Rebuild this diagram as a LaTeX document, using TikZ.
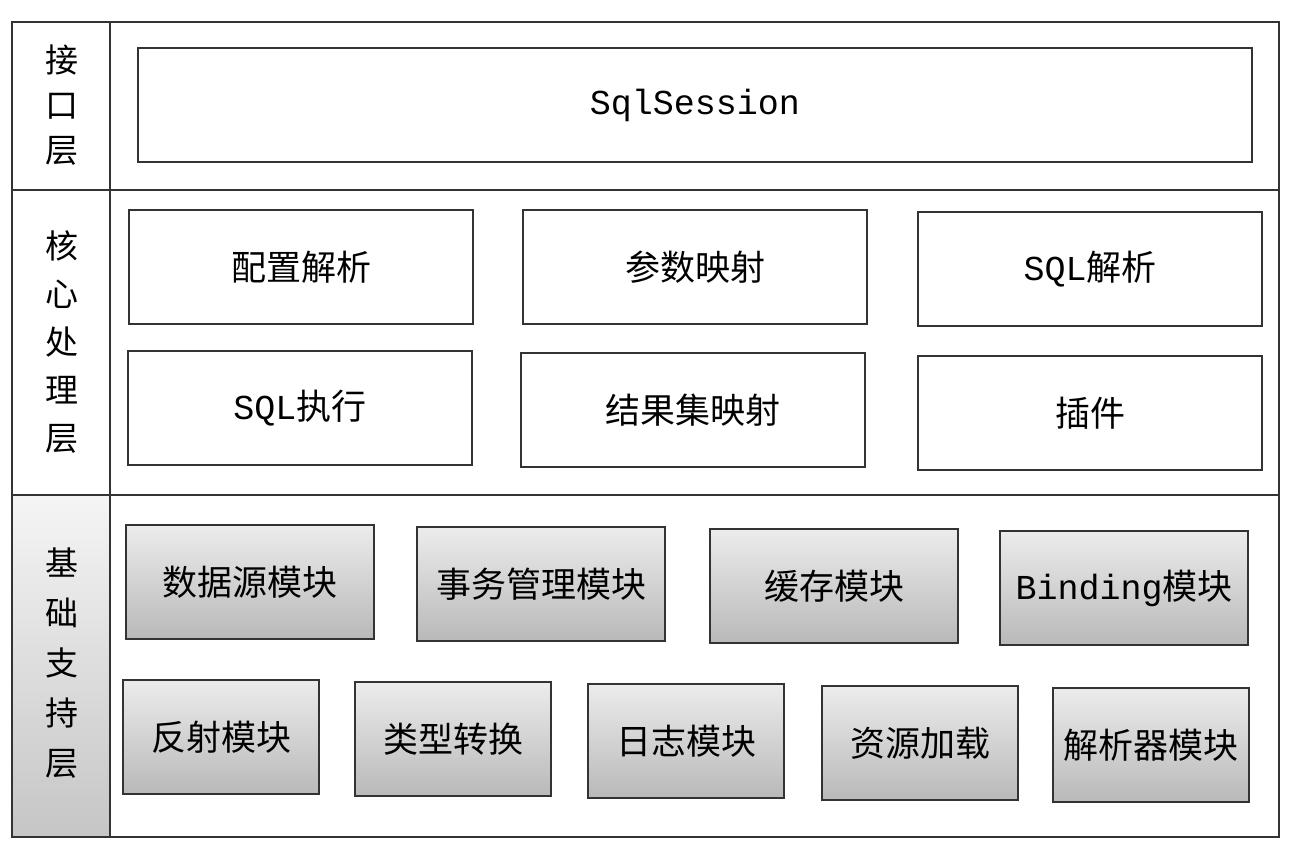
\documentclass[tikz,border=0pt]{standalone}
\usepackage{fontspec}
\setmainfont{Noto Sans CJK SC}
\newfontfamily\mono{Liberation Mono}
\usetikzlibrary{positioning}

\begin{document}
\begin{tikzpicture}[x=0.5pt,y=-0.5pt,
	frm/.style={draw=black!80,line width=1pt},
	blk/.style={frm,rectangle,inner sep=0pt,minimum height=57pt,font=\fontsize{17.5}{20}\selectfont},
	core/.style={blk,minimum width=172pt},
	basea/.style={blk,minimum width=124pt,top color=gray!15,bottom color=gray!55},
	baseb/.style={blk,minimum width=98pt,top color=gray!15,bottom color=gray!55},
	lyr/.style={align=center,inner sep=0pt,font=\fontsize{16.5}{24}\selectfont}]
	\useasboundingbox (0, 0) rectangle (1294, 862);
	% frame
	\shade[top color=gray!8,bottom color=gray!45] (12, 495) rectangle (110, 837);
	\draw[frm] (12, 22) rectangle (1279, 837);
	\draw[frm] (110, 22) -- (110, 837);
	\draw[frm] (12, 190) -- (1279, 190);
	\draw[frm] (12, 495) -- (1279, 495);
	% layer names
	\node[lyr] (api) at (62, 105) {接\\[-1.5pt]口\\[-1.5pt]层};
	\node[lyr] (kernel) at (62, 342) {核\\心\\处\\理\\层};
	\node[lyr,font=\fontsize{16.5}{25}\selectfont] (support) at (62, 663) {基\\础\\支\\持\\层};
	% interface layer
	\node[blk,minimum width=557pt] (session) at (695, 105) {\raisebox{-3pt}{\mono SqlSession}};
	% core layer
	\node[core] (config) at (301, 267) {配置解析};
	\node[core] (param) at (695, 267) {参数映射};
	\node[core] (sqlparse) at (1090, 269) {\mono SQL\rmfamily 解析};
	\node[core] (exec) at (300, 408) {\mono SQL\rmfamily 执行};
	\node[core] (result) at (693, 410) {结果集映射};
	\node[core] (plugin) at (1090, 413) {插件};
	% support layer
	\node[basea] (datasrc) at (250, 582) {数据源模块};
	\node[basea] (trans) at (541, 584) {事务管理模块};
	\node[basea] (cache) at (834, 586) {缓存模块};
	\node[basea] (binding) at (1124, 588) {\mono Binding\rmfamily 模块};
	\node[baseb] (reflect) at (221, 737) {反射模块};
	\node[baseb] (types) at (453, 739) {类型转换};
	\node[baseb] (logging) at (686, 741) {日志模块};
	\node[baseb] (res) at (920, 743) {资源加载};
	\node[baseb] (parser) at (1151, 745) {解析器模块};
\end{tikzpicture}
\end{document}
